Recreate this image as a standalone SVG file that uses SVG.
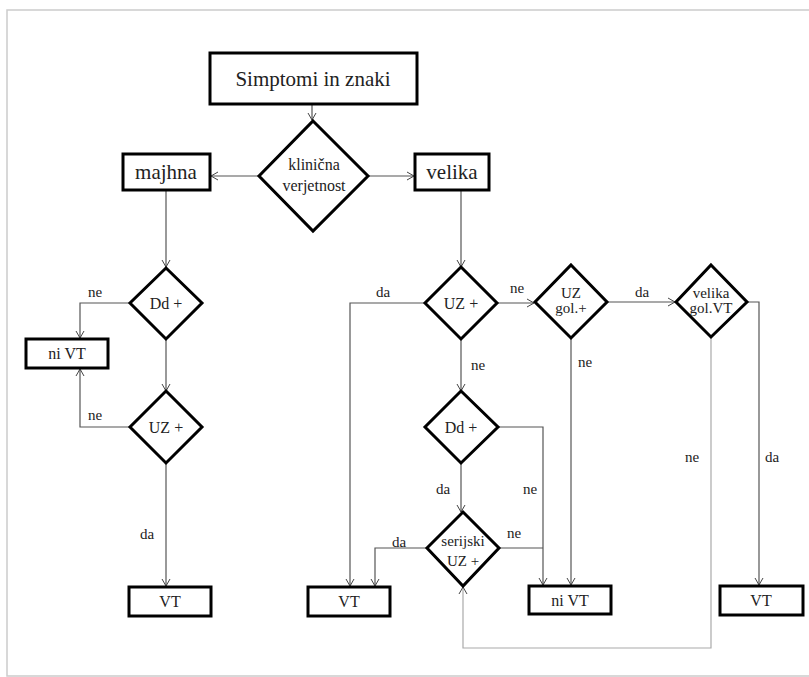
<svg xmlns="http://www.w3.org/2000/svg" width="809" height="677" viewBox="0 0 809 677" font-family="'Liberation Serif', 'Times New Roman', serif">
<defs>
<marker id="arr" markerWidth="10" markerHeight="10" refX="8" refY="5" orient="auto" markerUnits="userSpaceOnUse">
<polyline points="1,1 8,5 1,9" fill="none" stroke="#444" stroke-width="1"/>
</marker>
</defs>
<style>
.box{fill:#fff;stroke:#000;stroke-width:3}
.dia{fill:#fff;stroke:#000;stroke-width:3}
text{font-family:"Liberation Serif","Times New Roman",serif}
.t{fill:#222;text-anchor:middle}
.c{fill:none;stroke:#555;stroke-width:1.2}
.cl{fill:none;stroke:#aaa;stroke-width:1.2}
.lab{font-size:15px;fill:#222;text-anchor:middle}
</style>
<rect width="809" height="677" fill="#fff"/>
<path d="M809,10 H7 V676 H809" fill="none" stroke="#ccc" stroke-width="1.5"/>
<g id="connectors">
<line class="c" x1="312" y1="104" x2="312" y2="120" marker-end="url(#arr)"/>
<line class="c" x1="259" y1="176" x2="211" y2="176" marker-end="url(#arr)"/>
<line class="c" x1="368" y1="176" x2="414" y2="176" marker-end="url(#arr)"/>
<line class="c" x1="166" y1="190" x2="166" y2="267" marker-end="url(#arr)"/>
<polyline class="c" points="130,303 80,303 80,338" marker-end="url(#arr)"/>
<line class="c" x1="166" y1="339" x2="166" y2="391" marker-end="url(#arr)"/>
<polyline class="c" points="130,427 80,427 80,369" marker-end="url(#arr)"/>
<line class="c" x1="166" y1="463" x2="166" y2="586" marker-end="url(#arr)"/>
<line class="c" x1="461" y1="190" x2="461" y2="267" marker-end="url(#arr)"/>
<polyline class="c" points="425,303 350,303 350,586" marker-end="url(#arr)"/>
<line class="c" x1="497" y1="303" x2="534" y2="303" marker-end="url(#arr)"/>
<line class="c" x1="607" y1="302" x2="675" y2="302" marker-end="url(#arr)"/>
<polyline class="c" points="747,302 759,302 759,585" marker-end="url(#arr)"/>
<line class="c" x1="571" y1="338" x2="571" y2="585" marker-end="url(#arr)"/>
<line class="c" x1="461" y1="339" x2="461" y2="391" marker-end="url(#arr)"/>
<polyline class="c" points="498,427 543,427 543,585" marker-end="url(#arr)"/>
<line class="c" x1="461" y1="463" x2="461" y2="512" marker-end="url(#arr)"/>
<line class="c" x1="499" y1="548" x2="543" y2="548"/>
<polyline class="c" points="427,548 375,548 375,586" marker-end="url(#arr)"/>
<polyline class="cl" points="711,337 711,648 463,648 463,587" marker-end="url(#arr)"/>
<text class="lab" x="95" y="297">ne</text>
<text class="lab" x="95" y="420">ne</text>
<text class="lab" x="147" y="539">da</text>
<text class="lab" x="383" y="297">da</text>
<text class="lab" x="517" y="293">ne</text>
<text class="lab" x="642" y="297">da</text>
<text class="lab" x="585" y="367">ne</text>
<text class="lab" x="478" y="370">ne</text>
<text class="lab" x="443" y="494">da</text>
<text class="lab" x="530" y="494">ne</text>
<text class="lab" x="514" y="538">ne</text>
<text class="lab" x="399" y="547">da</text>
<text class="lab" x="692" y="462">ne</text>
<text class="lab" x="772" y="462">da</text>
</g>
<g id="start">
<rect class="box" x="210" y="53" width="207" height="51"/>
<text class="t" x="313" y="86" font-size="21">Simptomi in znaki</text>
</g>
<g id="klinicna">
<polygon class="dia" points="313,121 368,176 313,231 259,176"/>
<text class="t" x="314" y="170" font-size="16">klinična</text>
<text class="t" x="314" y="191" font-size="16">verjetnost</text>
</g>
<g id="majhna">
<rect class="box" x="123" y="154" width="87" height="36"/>
<text class="t" x="166" y="179" font-size="21">majhna</text>
</g>
<g id="velika">
<rect class="box" x="415" y="154" width="74" height="36"/>
<text class="t" x="452" y="179" font-size="21">velika</text>
</g>
<g id="dd1">
<polygon class="dia" points="166,268 202,303 166,339 130,303"/>
<text class="t" x="166" y="309" font-size="16">Dd +</text>
</g>
<g id="nivt1">
<rect class="box" x="26" y="339" width="82" height="29"/>
<text class="t" x="67" y="359" font-size="16">ni VT</text>
</g>
<g id="uz1">
<polygon class="dia" points="166,391 202,427 166,463 130,427"/>
<text class="t" x="166" y="433" font-size="16">UZ +</text>
</g>
<g id="vt1">
<rect class="box" x="129" y="587" width="82" height="29"/>
<text class="t" x="170" y="607" font-size="16">VT</text>
</g>
<g id="uz2">
<polygon class="dia" points="461,267 497,303 461,339 425,303"/>
<text class="t" x="461" y="309" font-size="16">UZ +</text>
</g>
<g id="uzgol">
<polygon class="dia" points="571,265 607,302 571,338 535,302"/>
<text class="t" x="571" y="298" font-size="15">UZ</text>
<text class="t" x="571" y="313" font-size="15">gol.+</text>
</g>
<g id="velikagol">
<polygon class="dia" points="711,265 747,302 711,337 676,302"/>
<text class="t" x="711" y="298" font-size="15">velika</text>
<text class="t" x="711" y="313" font-size="15">gol.VT</text>
</g>
<g id="dd2">
<polygon class="dia" points="461,391 498,427 461,463 425,427"/>
<text class="t" x="461" y="433" font-size="16">Dd +</text>
</g>
<g id="serijski">
<polygon class="dia" points="463,512 499,548 463,586 427,548"/>
<text class="t" x="463" y="546" font-size="15">serijski</text>
<text class="t" x="463" y="566" font-size="15">UZ +</text>
</g>
<g id="vt2">
<rect class="box" x="308" y="587" width="82" height="29"/>
<text class="t" x="349" y="607" font-size="16">VT</text>
</g>
<g id="nivt2">
<rect class="box" x="529" y="586" width="82" height="28"/>
<text class="t" x="570" y="606" font-size="16">ni VT</text>
</g>
<g id="vt3">
<rect class="box" x="720" y="586" width="83" height="29"/>
<text class="t" x="761" y="606" font-size="16">VT</text>
</g>
</svg>
